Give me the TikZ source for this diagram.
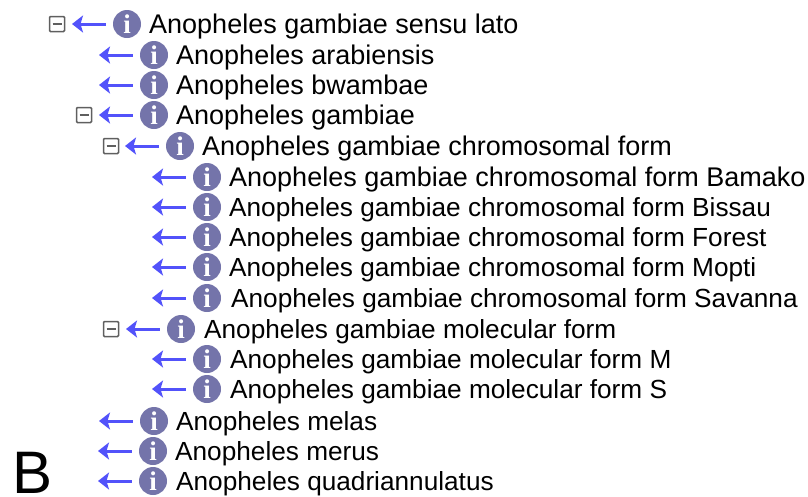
\documentclass[tikz,border=0pt]{standalone}
\usepackage{fontspec}
\setmainfont{Liberation Sans}
\usepackage{tikz}
\usetikzlibrary{arrows.meta}
\definecolor{iconblue}{RGB}{116,116,170}
\definecolor{arrowblue}{RGB}{82,82,250}
\definecolor{boxgray}{RGB}{95,95,95}
\tikzset{
  taxon/.style={anchor=base west,inner sep=0pt},
  infoicon/.style={circle,fill=iconblue,text=white,inner sep=0pt,minimum size=28pt,
    font=\fontsize{27}{27}\selectfont\bfseries\rmfamily},
  backarrow/.style={-{Stealth[length=11pt,width=17pt,inset=2.5pt]},line width=3pt,arrowblue},
  foldbox/.style={draw=boxgray,line width=1.5pt,rounded corners=1pt,minimum size=15pt,inner sep=0pt}
}
\newfontfamily\iconfont{Liberation Serif}
\begin{document}
\begin{tikzpicture}[x=1pt,y=-1pt]
\useasboundingbox (0,0) rectangle (808,496);
% rows of the tree
\foreach \idx/\iconx/\labelx/\rowy/\fsize/\tax in {
  1/127/149/24/27/Anopheles gambiae sensu lato,
  2/154/176/55/27/Anopheles arabiensis,
  3/154/176/85/27/Anopheles bwambae,
  4/154/176/115/27/Anopheles gambiae,
  5/180/202/146/27/Anopheles gambiae chromosomal form,
  6/207/229/177/27/Anopheles gambiae chromosomal form Bamako,
  7/207/229/207/26.2/Anopheles gambiae chromosomal form Bissau,
  8/207/229/237/26.2/Anopheles gambiae chromosomal form Forest,
  9/207/229/267/26.2/Anopheles gambiae chromosomal form Mopti,
  10/207/231/298/26.2/Anopheles gambiae chromosomal form Savanna,
  11/181/204/329/26.2/Anopheles gambiae molecular form,
  12/207/230/359/26.2/Anopheles gambiae molecular form M,
  13/207/230/389/26.2/Anopheles gambiae molecular form S,
  14/154/176/421/26.2/Anopheles melas,
  15/153/175/451/26.2/Anopheles merus,
  16/153/176/481/26.2/Anopheles quadriannulatus}{
  \node[infoicon] (icon\idx) at (\iconx,\rowy) {\iconfont i};
  \node[taxon,font=\fontsize{\fsize}{32}\selectfont] (label\idx) at (\labelx,\rowy+9) {\tax};
  \coordinate (tip\idx) at (\iconx-55,\rowy);
  \draw[backarrow] (icon\idx.west) ++(-7,0) -- (tip\idx);
}
% fold boxes
\foreach \idx/\boxx/\rowy in {1/57/24,4/84/115,5/111/146,11/111/329}{
  \node[foldbox] (fold\idx) at (\boxx,\rowy) {};
  \draw[boxgray,line width=1.5pt] (fold\idx.center) ++(-4.5,0) -- ++(9,0);
}
% panel letter
\node[anchor=base west,inner sep=0pt,font=\fontsize{60}{60}\selectfont] (panel) at (12,493) {B};
\end{tikzpicture}
\end{document}
